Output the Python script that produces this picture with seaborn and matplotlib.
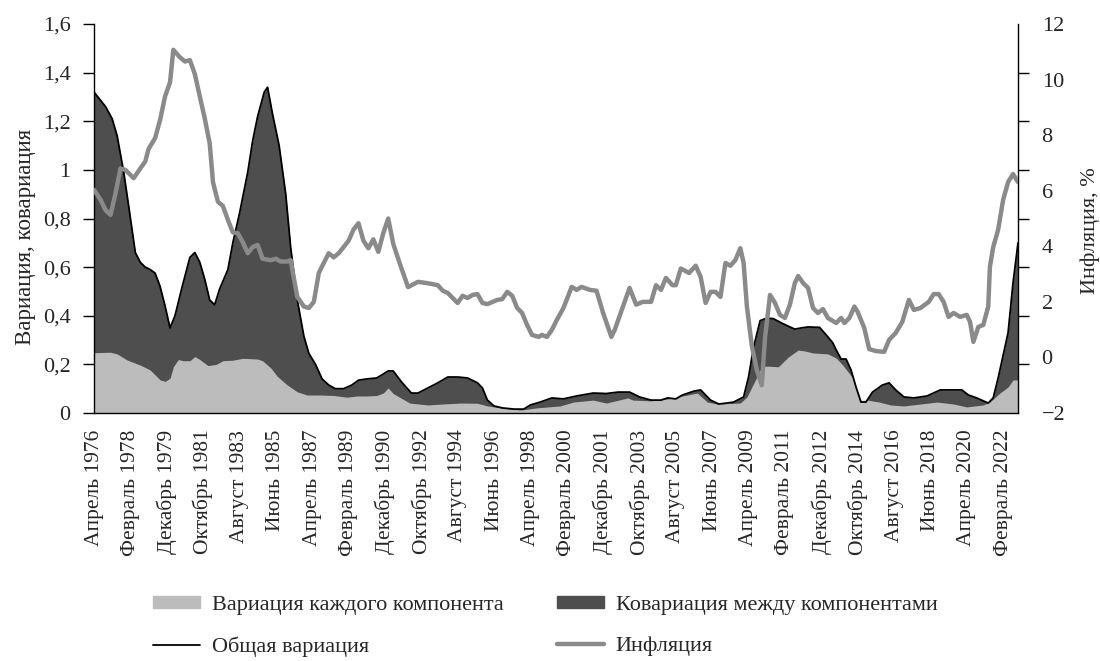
import numpy as np
import pandas as pd
import seaborn as sns
import matplotlib.pyplot as plt
from matplotlib.lines import Line2D
from matplotlib.patches import Patch

# months counted from April 1976
total_m = [0, 7, 11, 14, 18, 21, 25, 28, 31, 34, 37, 40, 43, 46, 49, 53, 58, 61, 64, 67, 70, 73,
           76, 81, 84, 88, 93, 96, 99, 103, 105, 108, 112, 116, 119, 123, 127, 130, 134, 138, 142,
           146, 151, 156, 160, 165, 171, 174, 178, 181, 186, 192, 196, 202, 208, 214, 220, 226,
           232, 235, 238, 242, 247, 254, 260, 264, 270, 277, 284, 292, 302, 310, 317, 324, 330,
           337, 343, 347, 352, 356, 363, 367, 370, 373, 378, 383, 387, 393, 396, 399, 403, 407,
           411, 416, 421, 424, 428, 432, 439, 444, 447, 449, 452, 455, 458, 461, 464, 467, 471,
           477, 481, 485, 490, 496, 504, 512, 518, 525, 529, 534, 541, 544, 547, 553, 556, 559]
total_v = [1.32, 1.26, 1.21, 1.14, 0.99, 0.85, 0.66, 0.62, 0.60, 0.59, 0.575, 0.52, 0.44, 0.35,
           0.40, 0.51, 0.64, 0.66, 0.62, 0.55, 0.465, 0.445, 0.51, 0.59, 0.70, 0.82, 0.99, 1.12,
           1.22, 1.32, 1.34, 1.23, 1.10, 0.90, 0.68, 0.465, 0.315, 0.245, 0.20, 0.14, 0.115,
           0.10, 0.10, 0.115, 0.135, 0.14, 0.144, 0.156, 0.173, 0.173, 0.128, 0.082, 0.082,
           0.103, 0.124, 0.148, 0.148, 0.144, 0.124, 0.103, 0.053, 0.029, 0.021, 0.016, 0.016,
           0.033, 0.045, 0.062, 0.058, 0.070, 0.082, 0.080, 0.086, 0.086, 0.066, 0.053, 0.053,
           0.062, 0.058, 0.074, 0.090, 0.095, 0.074, 0.053, 0.037, 0.041, 0.045, 0.066, 0.148,
           0.27, 0.38, 0.39, 0.388, 0.37, 0.354, 0.345, 0.35, 0.354, 0.352, 0.313, 0.288, 0.259,
           0.222, 0.222, 0.177, 0.107, 0.045, 0.045, 0.086, 0.115, 0.124, 0.095, 0.066, 0.062,
           0.070, 0.095, 0.095, 0.095, 0.074, 0.062, 0.041, 0.062, 0.144, 0.33, 0.535, 0.70]

comp_m = [0, 10, 14, 20, 28, 34, 40, 43, 46, 48, 51, 54, 58, 61, 64, 69, 74, 78, 84, 90, 99, 102,
          107, 111, 117, 123, 129, 137, 145, 153, 159, 165, 171, 175, 178, 181, 191, 202, 211,
          222, 232, 238, 246, 258, 268, 282, 290, 302, 310, 323, 326, 337, 347, 356, 365, 371,
          377, 391, 395, 401, 404, 407, 414, 420, 426, 430, 435, 444, 449, 453, 459, 464, 468,
          475, 482, 490, 500, 510, 520, 528, 538, 542, 548, 553, 556, 559]
comp_v = [0.248, 0.25, 0.243, 0.218, 0.197, 0.177, 0.136, 0.13, 0.143, 0.19, 0.22, 0.215, 0.215,
          0.232, 0.22, 0.195, 0.2, 0.215, 0.217, 0.225, 0.222, 0.215, 0.185, 0.15, 0.115, 0.087,
          0.074, 0.074, 0.072, 0.065, 0.07, 0.07, 0.072, 0.082, 0.103, 0.08, 0.041, 0.033, 0.037,
          0.041, 0.04, 0.029, 0.021, 0.012, 0.021, 0.029, 0.045, 0.053, 0.041, 0.062, 0.053,
          0.05, 0.058, 0.070, 0.082, 0.045, 0.037, 0.041, 0.066, 0.148, 0.19, 0.193, 0.19, 0.23,
          0.259, 0.255, 0.247, 0.243, 0.226, 0.197, 0.144, 0.053, 0.053, 0.045, 0.033, 0.029,
          0.037, 0.045, 0.037, 0.025, 0.033, 0.045, 0.082, 0.107, 0.136, 0.136]

infl_m = [0, 4, 7, 10, 13, 16, 19, 24, 28, 31, 33, 37, 40, 43, 46, 48, 52, 55, 58, 61, 64, 67, 70,
          72, 75, 78, 81, 84, 87, 90, 93, 96, 99, 102, 107, 110, 113, 117, 119, 120, 123, 127,
          130, 133, 136, 139, 142, 145, 148, 151, 154, 157, 160, 163, 166, 169, 172, 175, 178,
          181, 184, 190, 196, 202, 208, 211, 214, 220, 223, 226, 229, 232, 235, 238, 244, 247,
          250, 253, 256, 259, 262, 265, 269, 271, 274, 277, 280, 284, 289, 292, 295, 300, 304,
          308, 313, 315, 320, 324, 328, 332, 337, 340, 343, 346, 350, 352, 355, 360, 364, 367,
          370, 373, 376, 379, 382, 385, 388, 391, 393, 395, 398, 401, 404, 406, 409, 412, 415,
          418, 421, 424, 426, 429, 432, 435, 438, 441, 444, 449, 452, 454, 457, 460, 462, 466,
          469, 473, 478, 481, 485, 489, 493, 496, 500, 505, 508, 511, 514, 517, 520, 524, 528,
          530, 532, 535, 538, 541, 542, 544, 547, 550, 553, 556, 559]
infl_v = [6.03, 5.67, 5.3, 5.13, 5.9, 6.8, 6.75, 6.45, 6.8, 7.05, 7.5, 7.9, 8.55, 9.4, 9.9, 11.07,
          10.8, 10.65, 10.7, 10.2, 9.4, 8.6, 7.7, 6.3, 5.6, 5.45, 4.95, 4.5, 4.47, 4.15, 3.75,
          3.97, 4.05, 3.55, 3.5, 3.55, 3.45, 3.45, 3.5, 3.15, 2.18, 1.83, 1.78, 2.0, 3.04, 3.4,
          3.75, 3.6, 3.75, 3.97, 4.2, 4.6, 4.83, 4.2, 3.93, 4.25, 3.8, 4.47, 5.0, 4.1, 3.55,
          2.53, 2.72, 2.67, 2.6, 2.4, 2.32, 1.96, 2.22, 2.14, 2.25, 2.28, 1.96, 1.92, 2.07, 2.1,
          2.36, 2.22, 1.78, 1.6, 1.17, 0.81, 0.74, 0.81, 0.74, 0.99, 1.35, 1.78, 2.54, 2.43,
          2.54, 2.43, 2.4, 1.6, 0.74, 0.99, 1.83, 2.5, 1.9, 2.0, 2.0, 2.6, 2.43, 2.86, 2.6, 2.6,
          3.2, 3.04, 3.3, 2.9, 1.96, 2.36, 2.36, 2.18, 3.4, 3.3, 3.5, 3.93, 3.4, 1.83, 0.4,
          -0.45, -1.0, 0.74, 2.25, 1.96, 1.53, 1.42, 1.9, 2.68, 2.93, 2.68, 2.5, 1.78, 1.6, 1.74,
          1.42, 1.24, 1.42, 1.24, 1.42, 1.83, 1.64, 1.06, 0.3, 0.23, 0.2, 0.63, 0.88, 1.28,
          2.07, 1.71, 1.78, 2.0, 2.28, 2.28, 2.0, 1.46, 1.6, 1.46, 1.53, 1.28, 0.56, 1.1, 1.17,
          1.83, 3.26, 3.97, 4.6, 5.67, 6.31, 6.6, 6.31]

tick_labels = ["Апрель 1976", "Февраль 1978", "Декабрь 1979", "Октябрь 1981", "Август 1983",
               "Июнь 1985", "Апрель 1987", "Февраль 1989", "Декабрь 1990", "Октябрь 1992",
               "Август 1994", "Июнь 1996", "Апрель 1998", "Февраль 2000", "Декабрь 2001",
               "Октябрь 2003", "Август 2005", "Июнь 2007", "Апрель 2009", "Февраль 2011",
               "Декабрь 2012", "Октябрь 2014", "Август 2016", "Июнь 2018", "Апрель 2020",
               "Февраль 2022"]
left_ticks = ["0", "0,2", "0,4", "0,6", "0,8", "1", "1,2", "1,4", "1,6"]
right_ticks = ["\u22122", "0", "2", "4", "6", "8", "10", "12"]

sns.set_theme(style="white")
plt.rcParams['font.family'] = ['Liberation Serif', 'DejaVu Serif']
FS = 16

light = "#bcbcbc"
dark = "#4e4e4e"
grey = "#8a8a8a"

df_total = pd.DataFrame({"m": total_m, "v": total_v})
df_comp = pd.DataFrame({"m": comp_m, "v": comp_v})
df_infl = pd.DataFrame({"m": infl_m, "v": infl_v})

fig = plt.figure(figsize=(11, 6.61), dpi=100)
ax = fig.add_axes([94 / 1100, 1 - 413 / 661, (1018 - 94) / 1100, (413 - 24) / 661])

# areas
ax.fill_between(df_total["m"], 0, df_total["v"], color=dark, lw=0, zorder=1)
ax.fill_between(df_comp["m"], 0, df_comp["v"], color=light, lw=0, zorder=2)
sns.lineplot(data=df_total, x="m", y="v", ax=ax, color="black", lw=1.3, zorder=3)

ax.set_xlim(0, 559)
ax.set_ylim(0, 1.6)
ax.set_yticks(np.arange(0, 1.61, 0.2))
ax.set_yticklabels(left_ticks, fontsize=FS)
ax.set_xticks(np.arange(0, 551, 22))
ax.set_xticklabels(tick_labels, rotation=90, fontsize=15.5)
ax.tick_params(axis="x", length=0, pad=12)
ax.tick_params(axis="y", direction="out", length=8, width=1, color="black", pad=9, left=True)
ax.set_xlabel("")
ax.set_ylabel("Вариация, ковариация", fontsize=16.5)
ax.yaxis.set_label_coords(-0.063, 0.452)
for s in ["left", "bottom"]:
    ax.spines[s].set_color("black")
    ax.spines[s].set_linewidth(1)
ax.spines["top"].set_visible(False)
ax.spines["right"].set_visible(False)

# inflation on right axis
ax2 = ax.twinx()
sns.lineplot(data=df_infl, x="m", y="v", ax=ax2, color=grey, lw=3.2, zorder=4)
ax2.set_ylim(-2, 12)
ax2.set_yticks(np.arange(-2, 12.1, 2))
ax2.set_yticklabels(right_ticks, fontsize=FS)
ax2.set_yticks(-2 + np.arange(9) * 14 / 8, minor=True)
ax2.tick_params(axis="y", which="major", length=0, pad=17, right=True)
ax2.tick_params(axis="y", which="minor", direction="out", length=8, width=1, color="black", right=True)
ax2.set_ylabel("Инфляция, %", fontsize=16)
ax2.yaxis.set_label_coords(1.068, 0.47)
ax2.set_xlabel("")
for s in ["top", "left", "bottom"]:
    ax2.spines[s].set_visible(False)
ax2.spines["right"].set_color("black")
ax2.spines["right"].set_linewidth(1)

handles = [Patch(color=light), Line2D([], [], color="black", lw=1.3),
           Patch(color=dark), Line2D([], [], color=grey, lw=3.2)]
labels = ["Вариация каждого компонента", "Общая вариация",
          "Ковариация между компонентами", "Инфляция"]
fig.legend(handles, labels, ncol=2, loc="upper left", bbox_to_anchor=(153 / 1100, 1 - 596 / 661),
           frameon=False, fontsize=FS, handlelength=2.1, handleheight=0.45, handletextpad=0.55,
           columnspacing=2.4, labelspacing=0.95, borderpad=0, borderaxespad=0)

fig.savefig("out.png", dpi=100)
